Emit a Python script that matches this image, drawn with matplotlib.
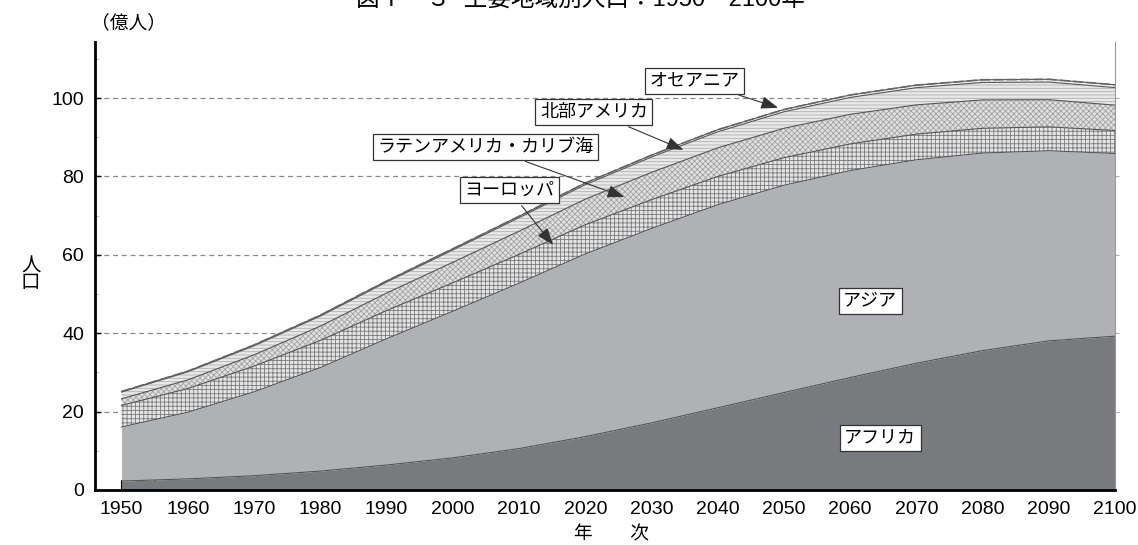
import numpy as np
import matplotlib
matplotlib.use("Agg")
import matplotlib.pyplot as plt

plt.rcParams['font.family'] = ['Liberation Sans', 'Noto Sans CJK JP', 'DejaVu Sans']
plt.rcParams['hatch.linewidth'] = 0.6

# 主要地域別人口（億人）
years = [1950, 1960, 1970, 1980, 1990, 2000, 2010, 2020, 2030, 2040, 2050, 2060, 2070, 2080, 2090, 2100]
africa = [2.27, 2.83, 3.63, 4.81, 6.36, 8.19, 10.55, 13.61, 17.11, 20.97, 24.85, 28.69, 32.34, 35.56, 38.05, 39.24]
asia = [13.80, 17.00, 21.40, 26.40, 32.20, 37.40, 42.20, 46.60, 49.60, 51.80, 52.90, 52.80, 51.90, 50.40, 48.50, 46.60]
europe = [5.50, 6.05, 6.57, 6.94, 7.21, 7.26, 7.36, 7.46, 7.36, 7.22, 7.03, 6.80, 6.56, 6.32, 6.09, 5.86]
latam = [1.68, 2.20, 2.87, 3.64, 4.46, 5.23, 5.91, 6.52, 6.96, 7.30, 7.50, 7.55, 7.45, 7.24, 6.93, 6.47]
n_america = [1.73, 2.06, 2.31, 2.56, 2.80, 3.13, 3.43, 3.70, 3.91, 4.09, 4.21, 4.31, 4.39, 4.46, 4.50, 4.48]
oceania = [0.13, 0.16, 0.20, 0.23, 0.27, 0.31, 0.37, 0.43, 0.48, 0.53, 0.58, 0.62, 0.65, 0.68, 0.70, 0.72]

fig = plt.figure(figsize=(11.38, 5.45), dpi=100)
ax = fig.add_axes([0.0835, 0.101, 0.8965, 0.822])

x = np.array(years)
layers = [africa, asia, europe, latam, n_america, oceania]
styles = [
    dict(facecolor='#797a7e', hatch=None, edgecolor='#797a7e'),
    dict(facecolor='#b0b1b5', hatch=None, edgecolor='#b0b1b5'),
    dict(facecolor='#e4e4e4', hatch='++++', edgecolor='#7a7a7a'),
    dict(facecolor='#e0e0e0', hatch='xxxxxx', edgecolor='#a2a2a2'),
    dict(facecolor='#e8e8e8', hatch='-----', edgecolor='#b0b0b0'),
    dict(facecolor='#f0f0f0', hatch=None, edgecolor='#f0f0f0'),
]
bottom = np.zeros(len(x))
for vals, st in zip(layers, styles):
    top = bottom + np.array(vals)
    ax.fill_between(x, bottom, top, facecolor=st['facecolor'], hatch=st['hatch'],
                    edgecolor=st['edgecolor'], linewidth=0, zorder=2)
    ax.plot(x, top, color='#555555', lw=0.8, zorder=3)
    bottom = top
ax.plot(x, bottom, color='#666666', lw=1.2, ls=(0, (6, 2)), zorder=3)

ax.set_xlim(1946, 2100)
ax.set_ylim(0, 114.3)
ax.set_xticks(range(1950, 2101, 10))
ax.set_xticks(range(1955, 2101, 10), minor=True)
ax.set_yticks(range(0, 101, 20))
ax.set_yticks(range(10, 111, 20), minor=True)
ax.tick_params(axis='x', which='both', direction='in', length=7, width=1.5, labelsize=14, pad=8)
ax.tick_params(axis='y', which='major', direction='in', length=4, width=1, labelsize=14, pad=8)
ax.tick_params(axis='y', which='minor', direction='in', length=3, width=0.6, color='#bbbbbb')
for y in range(20, 101, 20):
    ax.axhline(y, color='#888888', lw=0.9, ls=(0, (4, 3)), zorder=1)

ax.spines['top'].set_visible(False)
ax.spines['left'].set_linewidth(2)
ax.spines['bottom'].set_linewidth(2)
ax.spines['right'].set_linewidth(0.8)
ax.spines['right'].set_color('#999999')

ax2 = ax.twinx()
ax2.set_ylim(ax.get_ylim())
ax2.set_yticks(range(20, 101, 20))
ax2.tick_params(axis='y', direction='out', length=3, width=0.6, color='#999999', labelright=False)
for s in ['top', 'left', 'bottom', 'right']:
    ax2.spines[s].set_visible(False)

box = dict(boxstyle='square,pad=0.25', fc='white', ec='#333333', lw=0.9)
arrow = dict(arrowstyle='-|>,head_length=0.8,head_width=0.3', color='#333333', lw=0.8)
ax.annotate('オセアニア', xy=(2049.5, 97.3), xytext=(2036.5, 104.4), fontsize=13,
            ha='center', va='center', bbox=box, arrowprops=arrow, zorder=5)
ax.annotate('北部アメリカ', xy=(2035.2, 86.5), xytext=(2021.3, 96.4), fontsize=13,
            ha='center', va='center', bbox=box, arrowprops=arrow, zorder=5)
ax.annotate('ラテンアメリカ・カリブ海', xy=(2026.3, 74.5), xytext=(2004.9, 87.5), fontsize=13,
            ha='center', va='center', bbox=box, arrowprops=arrow, zorder=5)
ax.annotate('ヨーロッパ', xy=(2015.4, 62.0), xytext=(2008.5, 76.5), fontsize=13,
            ha='center', va='center', bbox=box, arrowprops=arrow, zorder=5)
ax.text(2063, 48.2, 'アジア', fontsize=13, ha='center', va='center', bbox=box, zorder=5)
ax.text(2064.5, 13.3, 'アフリカ', fontsize=13, ha='center', va='center', bbox=box, zorder=5)

fig.text(0.113, 0.958, '（億人）', fontsize=13.5, ha='center', va='center')
fig.text(0.027, 0.495, '人\n口', fontsize=14, ha='center', va='center', linespacing=1.0)
fig.text(0.537, 0.018, '年　　次', fontsize=13.5, ha='center', va='center')
fig.text(0.51, 0.98, '図Ⅰ－３  主要地域別人口：1950～2100年', fontsize=17, ha='center', va='bottom')

fig.savefig('out.png', dpi=100)
